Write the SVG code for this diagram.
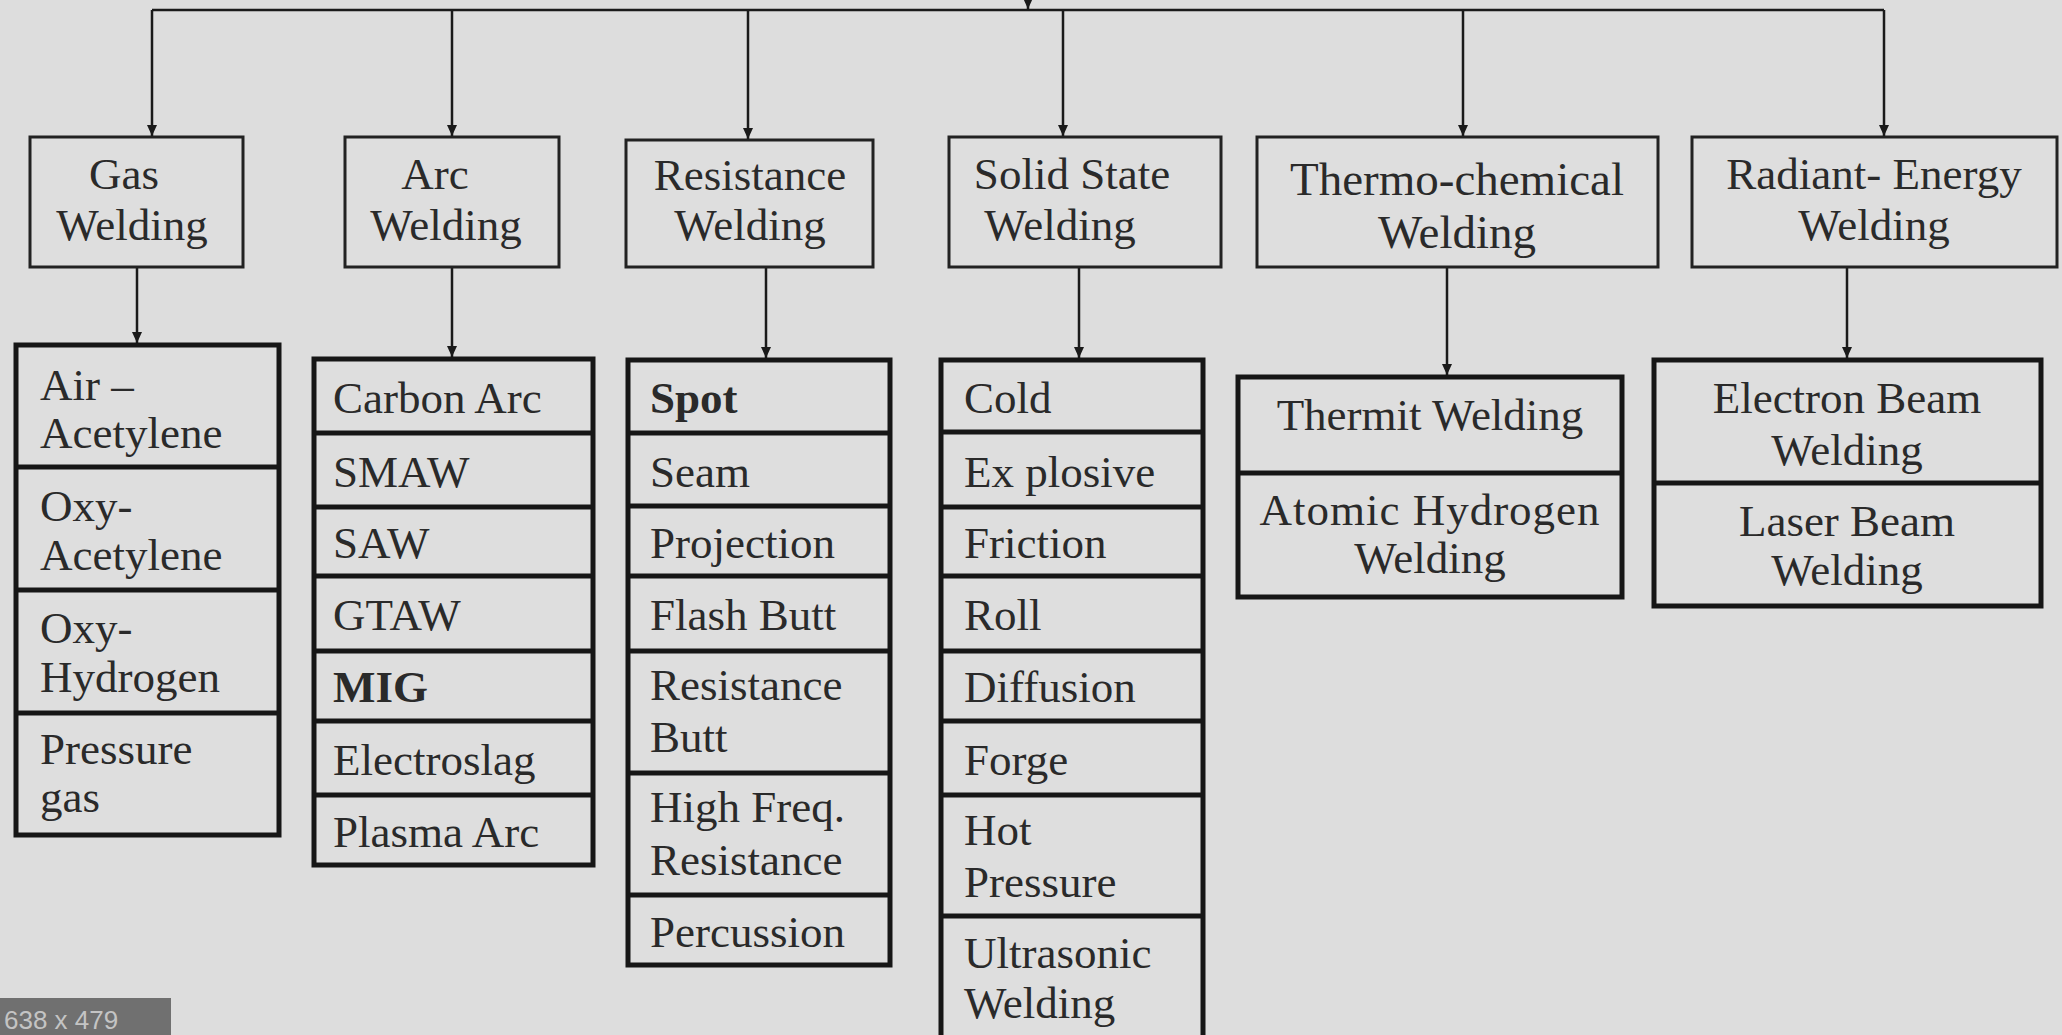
<svg xmlns="http://www.w3.org/2000/svg" width="2062" height="1035" viewBox="0 0 2062 1035">
<defs>
<marker id="ah" markerUnits="userSpaceOnUse" markerWidth="12" markerHeight="12" refX="11" refY="5" orient="auto">
<path d="M0,0 L11,5 L0,10 z" fill="#1a1a1a"/>
</marker>
<style>
.bg{fill:#dddddd}
.cat{fill:#dedede;stroke:#222;stroke-width:3}
.lst{fill:#dedede;stroke:#161616;stroke-width:5}
.sep{stroke:#161616;stroke-width:5}
.con{fill:none;stroke:#1a1a1a;stroke-width:2.5}
.arr{fill:none;stroke:#1a1a1a;stroke-width:2.5;marker-end:url(#ah)}
text{font-family:"Liberation Serif","Times New Roman",serif;font-size:45px;fill:#2a2a2a}
.c{text-anchor:middle}
.b{font-weight:bold}
.big{font-size:47px}
.tag{font-family:"Liberation Sans",Arial,sans-serif;font-size:26px;fill:#c4c4c4}
</style>
</defs>
<rect class="bg" x="0" y="0" width="2062" height="1035"/>

<g id="connectors">
<line class="con" x1="152" y1="10" x2="1884" y2="10"/>
<line class="arr" x1="1028" y1="-2" x2="1028" y2="9"/>
<line class="arr" x1="152" y1="10" x2="152" y2="136"/>
<line class="arr" x1="452" y1="10" x2="452" y2="136"/>
<line class="arr" x1="748" y1="10" x2="748" y2="139"/>
<line class="arr" x1="1063" y1="10" x2="1063" y2="136"/>
<line class="arr" x1="1463" y1="10" x2="1463" y2="136"/>
<line class="arr" x1="1884" y1="10" x2="1884" y2="136"/>
<line class="arr" x1="137" y1="268" x2="137" y2="343"/>
<line class="arr" x1="452" y1="268" x2="452" y2="357"/>
<line class="arr" x1="766" y1="268" x2="766" y2="358"/>
<line class="arr" x1="1079" y1="268" x2="1079" y2="358"/>
<line class="arr" x1="1447" y1="268" x2="1447" y2="375"/>
<line class="arr" x1="1847" y1="268" x2="1847" y2="358"/>
</g>

<g id="gas">
<rect class="cat" x="30" y="137" width="213" height="130"/>
<text class="c" x="124" y="189">Gas</text>
<text class="c" x="132" y="240">Welding</text>
</g>
<g id="arc">
<rect class="cat" x="345" y="137" width="214" height="130"/>
<text class="c" x="435" y="189">Arc</text>
<text class="c" x="446" y="240">Welding</text>
</g>
<g id="resistance">
<rect class="cat" x="626" y="140" width="247" height="127"/>
<text class="c" x="750" y="190">Resistance</text>
<text class="c" x="750" y="240">Welding</text>
</g>
<g id="solid">
<rect class="cat" x="949" y="137" width="272" height="130"/>
<text class="c" x="1072" y="189">Solid State</text>
<text class="c" x="1060" y="240">Welding</text>
</g>
<g id="thermo">
<rect class="cat" x="1257" y="137" width="401" height="130"/>
<text class="c big" x="1457" y="195">Thermo-chemical</text>
<text class="c big" x="1457" y="248">Welding</text>
</g>
<g id="radiant">
<rect class="cat" x="1692" y="137" width="365" height="130"/>
<text class="c" x="1874" y="189">Radiant- Energy</text>
<text class="c" x="1874" y="240">Welding</text>
</g>

<g id="gas-list">
<rect class="lst" x="16" y="345" width="263" height="490"/>
<line class="sep" x1="16" y1="467" x2="279" y2="467"/>
<line class="sep" x1="16" y1="590" x2="279" y2="590"/>
<line class="sep" x1="16" y1="713" x2="279" y2="713"/>
<text x="40" y="400">Air –</text>
<text x="40" y="448">Acetylene</text>
<text x="40" y="521">Oxy-</text>
<text x="40" y="570">Acetylene</text>
<text x="40" y="643">Oxy-</text>
<text x="40" y="692">Hydrogen</text>
<text x="40" y="764">Pressure</text>
<text x="40" y="812">gas</text>
</g>

<g id="arc-list">
<rect class="lst" x="314" y="359" width="279" height="506"/>
<line class="sep" x1="314" y1="433" x2="593" y2="433"/>
<line class="sep" x1="314" y1="507" x2="593" y2="507"/>
<line class="sep" x1="314" y1="576" x2="593" y2="576"/>
<line class="sep" x1="314" y1="651" x2="593" y2="651"/>
<line class="sep" x1="314" y1="721" x2="593" y2="721"/>
<line class="sep" x1="314" y1="795" x2="593" y2="795"/>
<text x="333" y="413">Carbon Arc</text>
<text x="333" y="487">SMAW</text>
<text x="333" y="558">SAW</text>
<text x="333" y="630">GTAW</text>
<text class="b" x="333" y="702">MIG</text>
<text x="333" y="775">Electroslag</text>
<text x="333" y="847">Plasma Arc</text>
</g>

<g id="resistance-list">
<rect class="lst" x="628" y="360" width="262" height="605"/>
<line class="sep" x1="628" y1="433" x2="890" y2="433"/>
<line class="sep" x1="628" y1="506" x2="890" y2="506"/>
<line class="sep" x1="628" y1="576" x2="890" y2="576"/>
<line class="sep" x1="628" y1="651" x2="890" y2="651"/>
<line class="sep" x1="628" y1="773" x2="890" y2="773"/>
<line class="sep" x1="628" y1="895" x2="890" y2="895"/>
<text class="b" x="650" y="413">Spot</text>
<text x="650" y="487">Seam</text>
<text x="650" y="558">Projection</text>
<text x="650" y="630">Flash Butt</text>
<text x="650" y="700">Resistance</text>
<text x="650" y="752">Butt</text>
<text x="650" y="822">High Freq.</text>
<text x="650" y="875">Resistance</text>
<text x="650" y="947">Percussion</text>
</g>

<g id="solid-list">
<rect class="lst" x="941" y="360" width="262" height="700"/>
<line class="sep" x1="941" y1="432" x2="1203" y2="432"/>
<line class="sep" x1="941" y1="507" x2="1203" y2="507"/>
<line class="sep" x1="941" y1="576" x2="1203" y2="576"/>
<line class="sep" x1="941" y1="651" x2="1203" y2="651"/>
<line class="sep" x1="941" y1="721" x2="1203" y2="721"/>
<line class="sep" x1="941" y1="795" x2="1203" y2="795"/>
<line class="sep" x1="941" y1="916" x2="1203" y2="916"/>
<text x="964" y="413">Cold</text>
<text x="964" y="487">Ex plosive</text>
<text x="964" y="558">Friction</text>
<text x="964" y="630">Roll</text>
<text x="964" y="702">Diffusion</text>
<text x="964" y="775">Forge</text>
<text x="964" y="845">Hot</text>
<text x="964" y="897">Pressure</text>
<text x="964" y="968">Ultrasonic</text>
<text x="964" y="1018">Welding</text>
</g>

<g id="thermo-list">
<rect class="lst" x="1238" y="377" width="384" height="220"/>
<line class="sep" x1="1238" y1="473" x2="1622" y2="473"/>
<text class="c" x="1430" y="430">Thermit Welding</text>
<text class="c" x="1430" y="525" letter-spacing="1">Atomic Hydrogen</text>
<text class="c" x="1430" y="573">Welding</text>
</g>

<g id="radiant-list">
<rect class="lst" x="1654" y="360" width="387" height="246"/>
<line class="sep" x1="1654" y1="483" x2="2041" y2="483"/>
<text class="c" x="1847" y="413">Electron Beam</text>
<text class="c" x="1847" y="465">Welding</text>
<text class="c" x="1847" y="536">Laser Beam</text>
<text class="c" x="1847" y="585">Welding</text>
</g>

<g id="size-tag">
<rect x="0" y="998" width="171" height="37" fill="#707070"/>
<text class="tag" x="4" y="1029">638 x 479</text>
</g>
</svg>
